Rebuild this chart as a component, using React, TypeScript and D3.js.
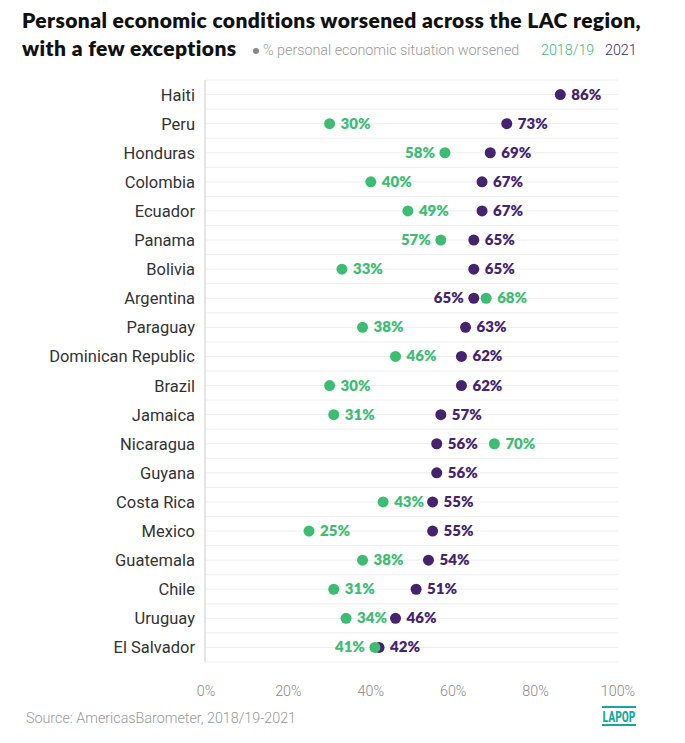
import React from "react";
import * as d3 from "d3";

const countries = [
  "Haiti", "Peru", "Honduras", "Colombia", "Ecuador", "Panama", "Bolivia", "Argentina",
  "Paraguay", "Dominican Republic", "Brazil", "Jamaica", "Nicaragua", "Guyana",
  "Costa Rica", "Mexico", "Guatemala", "Chile", "Uruguay", "El Salvador",
];
const values2018: (number | null)[] = [
  null, 30, 58, 40, 49, 57, 33, 68, 38, 46, 30, 31, 70, null, 43, 25, 38, 31, 34, 41,
];
const values2021: number[] = [
  86, 73, 69, 67, 67, 65, 65, 65, 63, 62, 62, 57, 56, 56, 55, 55, 54, 51, 46, 42,
];
const greenLabelLeft = ["Honduras", "Panama", "El Salvador"];
const purpleLabelLeft = ["Argentina"];
const xTicks = [0, 20, 40, 60, 80, 100];

const GREEN = "#3dbd74";
const PURPLE = "#45236f";

export default function App() {
  const W = 685, H = 743;
  const x = d3.scaleLinear().domain([0, 100]).range([206, 618]);
  const y = d3.scalePoint<string>().domain(countries).range([80, 662]).padding(0.5);
  const step = y.step();
  const top = 80;
  const gridYs: number[] = [];
  for (let i = 0; i <= countries.length; i++) gridYs.push(top + i * step);
  const r = 5.5;
  const valFont = "Lato, 'Open Sans', sans-serif";

  return (
    <svg width={W} height={H} style={{ position: "absolute", left: 0, top: 0, background: "#fff" }}>
      <text x={22} y={28} fontFamily={valFont} fontWeight={800} fontSize={21} letterSpacing={0.4} fill="#111">
        Personal economic conditions worsened across the LAC region,
      </text>
      <text x={22} y={56} fontFamily={valFont} fontWeight={800} fontSize={21} letterSpacing={0.4} fill="#111">
        with a few exceptions
      </text>
      <circle cx={256} cy={51} r={3} fill="#888" />
      <text x={263} y={55} fontFamily="Roboto, sans-serif" fontWeight={300} fontSize={14.3} fill="#999">
        % personal economic situation worsened
      </text>
      <text x={541} y={55} fontFamily="Roboto, sans-serif" fontWeight={300} fontSize={14.3} fill={GREEN}>
        2018/19
      </text>
      <text x={605} y={55} fontFamily="Roboto, sans-serif" fontWeight={300} fontSize={14.3} fill={PURPLE}>
        2021
      </text>

      {gridYs.map((gy, i) => (
        <line key={"b" + i} x1={x(0)} x2={x(100)} y1={gy} y2={gy} stroke="#eeeeee" strokeWidth={1} />
      ))}
      {countries.map((c) => (
        <line key={"c" + c} x1={x(0)} x2={x(100)} y1={y(c)!} y2={y(c)!} stroke="#eeeeee" strokeWidth={1} />
      ))}
      <line x1={x(0) - 1} x2={x(0) - 1} y1={top} y2={top + countries.length * step} stroke="#dddddd" strokeWidth={1.5} />

      {countries.map((c) => (
        <text key={"l" + c} x={195} y={y(c)! + 6} textAnchor="end" fontFamily="Roboto, sans-serif"
          fontSize={16.5} fill="#333">
          {c}
        </text>
      ))}

      {countries.map((c, i) => {
        const v21 = values2021[i];
        const v18 = values2018[i];
        const cy = y(c)!;
        const pLeft = purpleLabelLeft.includes(c);
        const gLeft = greenLabelLeft.includes(c);
        return (
          <g key={"d" + c}>
            <circle cx={x(v21)} cy={cy} r={r} fill={PURPLE} />
            <text x={pLeft ? x(v21) - 10 : x(v21) + 11} y={cy + 5} textAnchor={pLeft ? "end" : "start"}
              fontFamily={valFont} fontWeight={800} fontSize={15} fill={PURPLE}>
              {v21}%
            </text>
            {v18 !== null && (
              <>
                <circle cx={x(v18)} cy={cy} r={r} fill={GREEN} />
                <text x={gLeft ? x(v18) - 10 : x(v18) + 11} y={cy + 5} textAnchor={gLeft ? "end" : "start"}
                  fontFamily={valFont} fontWeight={800} fontSize={15} fill={GREEN}>
                  {v18}%
                </text>
              </>
            )}
          </g>
        );
      })}

      {xTicks.map((t) => (
        <text key={"t" + t} x={x(t)} y={696} textAnchor="middle" fontFamily="Roboto, sans-serif"
          fontWeight={300} fontSize={14.3} fill="#888">
          {t}%
        </text>
      ))}

      <text x={26} y={723} fontFamily="Roboto, sans-serif" fontWeight={300} fontSize={14.3} fill="#999">
        Source: AmericasBarometer, 2018/19-2021
      </text>
      <rect x={602} y={706} width={34} height={2} fill="#13a89e" />
      <rect x={602} y={724} width={34} height={2} fill="#13a89e" />
      <text x={619} y={722} textAnchor="middle" fontFamily="'Roboto Condensed', 'DejaVu Sans Condensed', Roboto, sans-serif"
        fontWeight={700} fontSize={14} fill="#13a89e" textLength={33} lengthAdjust="spacingAndGlyphs">
        LAPOP
      </text>
    </svg>
  );
}
